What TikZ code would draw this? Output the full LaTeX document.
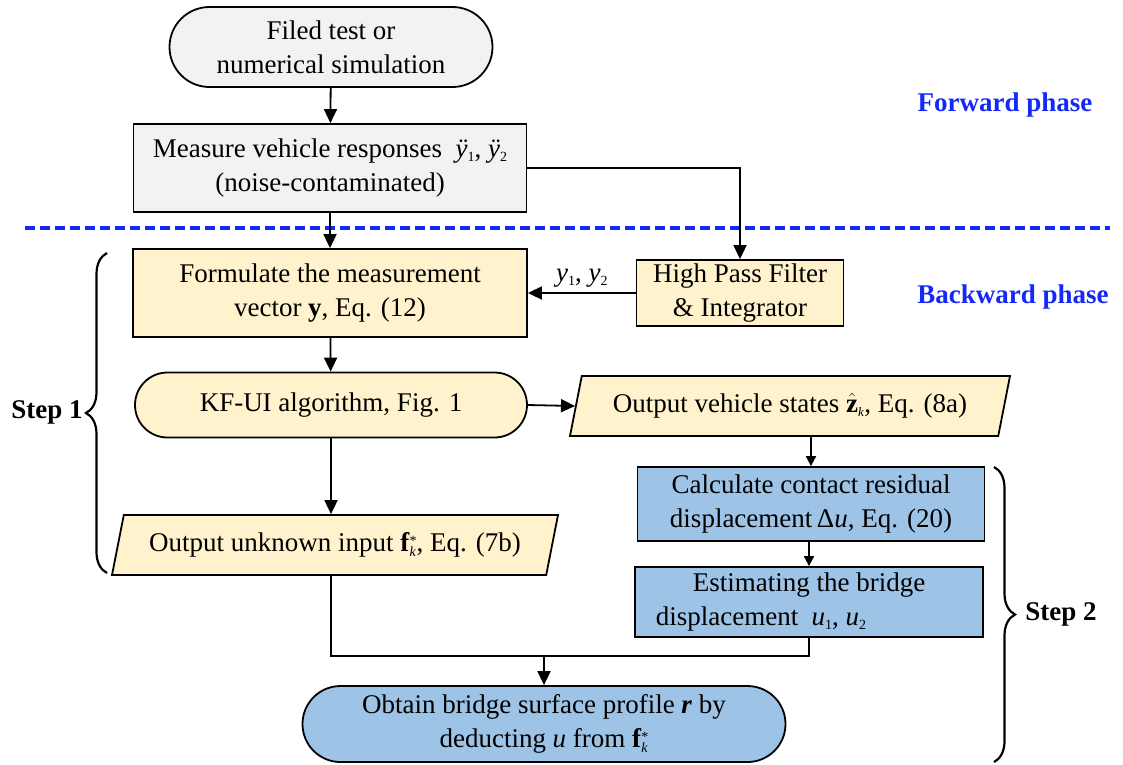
\documentclass[tikz,border=0pt]{standalone}
\usepackage{fontspec}
\setmainfont{Liberation Serif}
\usetikzlibrary{arrows.meta,shapes.misc,shapes.geometric,decorations.pathreplacing}
\definecolor{grayfill}{HTML}{F2F2F2}
\definecolor{goldfill}{HTML}{FFF2CC}
\definecolor{bluefill}{HTML}{9DC3E6}
\definecolor{phaseblue}{RGB}{20,40,250}
% small lowered index in text
\newcommand\lo[1]{\raisebox{-4pt}{\fontsize{14}{14}\selectfont #1}}
% bold f with stacked * and k
\newcommand\fk{\textbf{f}\raisebox{-5pt}{\vbox{\fontsize{14}{14}\selectfont
  \hbox{*}\kern-3pt\hbox{\itshape k}}}}
% bold hatted z with index k
\newcommand\zk{$\hat{\hbox{\bfseries z}}_{\hbox{\fontsize{13}{13}\selectfont\itshape k}}$}

\begin{document}
\begin{tikzpicture}[x=1pt,y=-1pt,
  every node/.style={font=\fontsize{27}{34}\selectfont},
  box/.style={draw, line width=1.8pt, inner sep=0pt, align=center},
  pill/.style={box, rounded rectangle},
  slant/.style={box, trapezium, trapezium stretches body,
    trapezium left angle=64.5, trapezium right angle=115.5},
  arr/.style={line width=1.8pt, -{Triangle[length=14pt,width=13pt]}},
  smallarr/.style={line width=1.8pt, -{Triangle[length=10pt,width=10pt]}},
  link/.style={line width=1.8pt},
  phase/.style={text=phaseblue, font=\fontsize{27}{34}\selectfont\bfseries},
  steplabel/.style={font=\fontsize{27}{34}\selectfont\bfseries},
  stepbrace/.style={decorate, decoration={brace, amplitude=21pt}, line width=2.2pt},
]
\useasboundingbox (0,0) rectangle (1123,764);

% forward phase
\node[pill, fill=grayfill, minimum width=323pt, minimum height=80pt] (start) at (331,47)
  {Filed test or\\numerical simulation};
\node[box, fill=grayfill, minimum width=393pt, minimum height=88pt] (meas) at (330,168)
  {Measure vehicle responses \ \textit{ÿ}\lo{1}, \textit{ÿ}\lo{2}\\(noise-contaminated)};

\node[phase] (fwd) at (1005,105) {Forward phase};
\node[phase] (bwd) at (1013,297) {Backward phase};
\draw[phaseblue, line width=3.5pt, dash pattern=on 10pt off 5pt] (25,228) -- (1110,228);

% step 1
\node[box, fill=goldfill, minimum width=394pt, minimum height=88pt] (form) at (330,293)
  {Formulate the measurement\\vector \textbf{y}, Eq. (12)};
\node[box, fill=goldfill, minimum width=207pt, minimum height=66pt] (hpf) at (740,293)
  {High Pass Filter\\\& Integrator};
\node[pill, fill=goldfill, minimum width=392pt, minimum height=65pt] (kf) at (331,405)
  {KF-UI algorithm, Fig. 1};
\node[slant, fill=goldfill, minimum width=440pt, minimum height=60pt] (out2) at (790,406)
  {Output vehicle states \zk, Eq. (8a)};
\node[slant, fill=goldfill, minimum width=446pt, minimum height=60pt] (out1) at (335,545)
  {Output unknown input \fk, Eq. (7b)};

% step 2
\node[box, fill=bluefill, minimum width=347pt, minimum height=74pt] (calc) at (811,504)
  {Calculate contact residual\\displacement\,Δ\textit{u}, Eq. (20)};
\node[box, fill=bluefill, minimum width=348pt, minimum height=70pt] (est) at (809,602)
  {Estimating the bridge\\displacement \ \textit{u}\lo{1}, \textit{u}\lo{2}\hspace*{96pt}};
\node[pill, fill=bluefill, minimum width=483pt, minimum height=76pt] (final) at (544,724)
  {Obtain bridge surface profile \textbf{\textit{r}} by\\deducting \textit{u} from \fk};

% connectors
\draw[arr] (start) -- (meas);
\draw[arr] (meas) -- (form);
\draw[arr] (meas.east) -| (hpf.north);
\draw[arr] (hpf.west) -- (form.east)
  node[midway, above=1pt, font=\fontsize{27}{34}\selectfont] (ylab) {\textit{y}\lo{1}, \textit{y}\lo{2}};
\draw[arr] (form) -- (kf);
\draw[arr] (kf.east) -- (out2.left side);
\draw[arr] (kf.south) -- (kf.south |- out1.top side);
\draw[smallarr] (out2.bottom side -| calc.north) -- (calc.north);
\draw[smallarr] (calc.south -| est.north) -- (est.north);
\coordinate (join) at (544,656);
\draw[link] (out1.bottom side -| kf.south) |- (join) -| (est.south);
\draw[arr] (join) -- (final.north);

% step braces
\draw[stepbrace] (107,573) -- (107,253);
\node[steplabel] (s1) at (47,412) {Step 1};
\draw[stepbrace] (994,467) -- (994,762);
\node[steplabel] (s2) at (1061,614) {Step 2};
\end{tikzpicture}
\end{document}
